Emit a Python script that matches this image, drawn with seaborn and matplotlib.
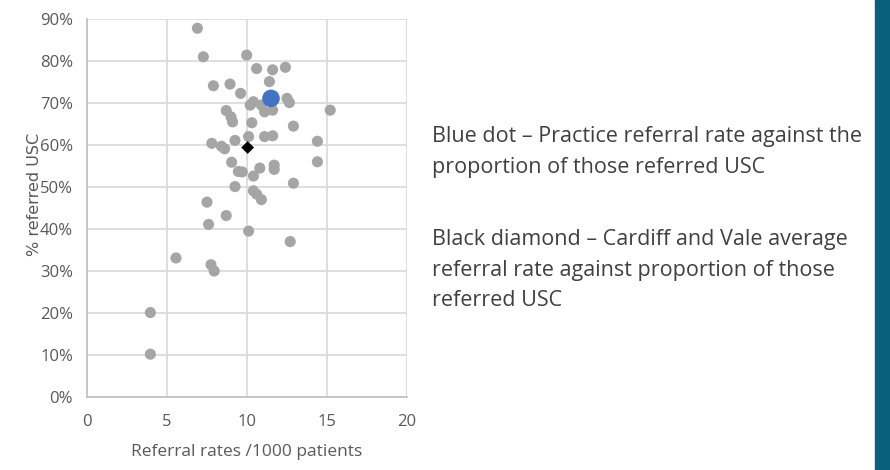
import matplotlib
matplotlib.use("Agg")
import matplotlib.pyplot as plt
import matplotlib.ticker as mticker
import seaborn as sns
import pandas as pd

# Practice data (referral rate per 1000 patients, % referred USC)
practice_rate = [6.9, 7.27, 9.98, 10.6, 11.6, 12.4, 7.9, 8.94, 11.4, 9.6,
                 12.5, 12.65, 10.4, 10.2, 10.9, 11.1, 11.6, 8.7, 15.2, 9.0,
                 9.1, 10.3, 12.9, 10.1, 9.25, 11.1, 11.6, 14.4, 7.8, 8.4,
                 8.6, 9.04, 11.7, 11.7, 10.8, 14.4, 9.46, 9.7, 10.4, 12.9,
                 9.25, 10.4, 10.6, 10.9, 7.5, 8.7, 7.6, 10.1, 12.7, 5.56,
                 7.75, 7.95, 3.96, 3.96]
practice_usc = [87.8, 81.0, 81.4, 78.2, 77.9, 78.5, 74.1, 74.5, 75.1, 72.3,
                71.1, 70.1, 70.3, 69.5, 69.5, 67.9, 68.3, 68.2, 68.3, 66.7,
                65.5, 65.3, 64.5, 62.0, 61.1, 62.0, 62.2, 60.9, 60.4, 59.7,
                59.1, 55.9, 55.2, 54.2, 54.5, 56.0, 53.7, 53.6, 52.6, 50.9,
                50.1, 49.1, 48.3, 47.0, 46.4, 43.2, 41.1, 39.5, 37.0, 33.1,
                31.5, 30.0, 20.1, 10.2]

# Highlighted practice (blue dot) and Cardiff and Vale average (black diamond)
blue_rate = [11.5]
blue_usc = [71.1]
avg_rate = [10.04]
avg_usc = [59.4]

x_ticks = [0, 5, 10, 15, 20]
y_ticks = [0, 10, 20, 30, 40, 50, 60, 70, 80, 90]
x_label = "Referral rates /1000 patients"
y_label = "% referred USC"
note_blue = "Blue dot \u2013 Practice referral rate against the\nproportion of those referred USC"
note_black = ("Black diamond \u2013 Cardiff and Vale average\n"
              "referral rate against proportion of those\nreferred USC")

sns.set_theme(style="white")
plt.rcParams['font.family'] = ['Open Sans', 'DejaVu Sans']

fig = plt.figure(figsize=(8.9, 4.7), dpi=100)
ax = fig.add_axes([87/890, 73/470, 320/890, 378/470])

df = pd.DataFrame({"rate": practice_rate, "usc": practice_usc})
sns.scatterplot(data=df, x="rate", y="usc", ax=ax, color="#A5A5A5",
                s=64, edgecolor="none", zorder=3)
sns.scatterplot(x=blue_rate, y=blue_usc, ax=ax, color="#4472C4",
                s=160, edgecolor="none", zorder=4)
sns.scatterplot(x=avg_rate, y=avg_usc, ax=ax, color="black", marker="D",
                s=42, edgecolor="none", zorder=5)

ax.set_xlim(0, 20)
ax.set_ylim(0, 90)
ax.set_xticks(x_ticks)
ax.set_yticks(y_ticks)
ax.yaxis.set_major_formatter(mticker.FuncFormatter(lambda v, p: f"{int(v)}%"))
ax.grid(True, color="#D9D9D9", linewidth=1.2)
ax.set_axisbelow(True)
for s in ["top", "right"]:
    ax.spines[s].set_visible(False)
for s in ["left", "bottom"]:
    ax.spines[s].set_color("#BFBFBF")
    ax.spines[s].set_linewidth(1.2)
ax.tick_params(axis="both", length=0, colors="#595959", labelsize=12)
ax.tick_params(axis="x", pad=12)
ax.tick_params(axis="y", pad=10)
ax.set_xlabel(x_label, fontsize=12.5, color="#595959", labelpad=10)
ax.set_ylabel(y_label, fontsize=11.5, color="#595959",
              family=['DejaVu Sans'])
ax.yaxis.set_label_coords(-45/320, (397 - 194) / 378)

fig.text(432/890, 1 - 126/470, note_blue, fontsize=15.5, color="#404040",
         va="top", ha="left", linespacing=1.6)
fig.text(432/890, 1 - 229/470, note_black, fontsize=15.5, color="#404040",
         va="top", ha="left", linespacing=1.6)

# teal band at right edge
fig.patches.append(plt.Rectangle((875/890, 0), 15/890, 1, transform=fig.transFigure,
                                 color="#09607A", zorder=0))

fig.savefig("out.png", dpi=100)
